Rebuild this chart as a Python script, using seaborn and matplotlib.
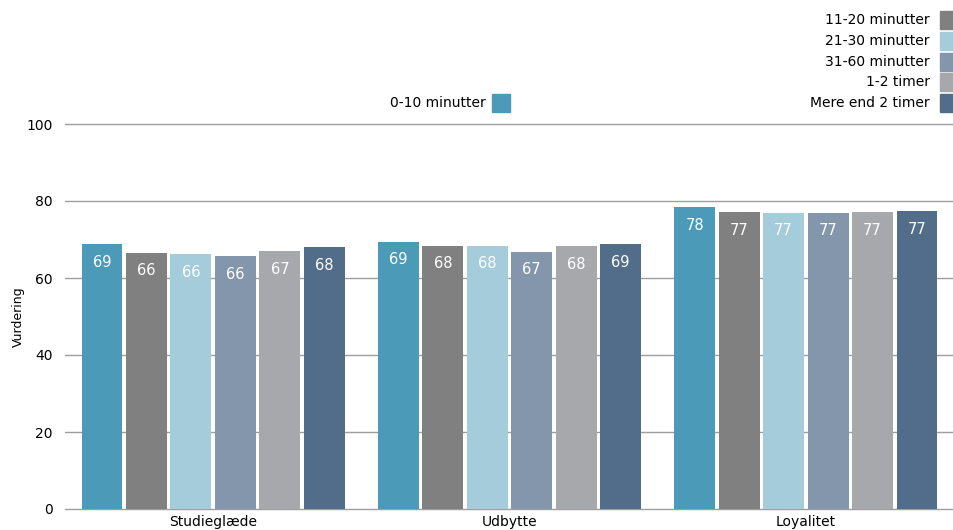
import matplotlib
matplotlib.use("Agg")
import matplotlib.pyplot as plt
from matplotlib.patches import Rectangle
import seaborn as sns
import pandas as pd

# data
categories = ["Studieglæde", "Udbytte", "Loyalitet"]
groups = ["0-10 minutter", "11-20 minutter", "21-30 minutter",
          "31-60 minutter", "1-2 timer", "Mere end 2 timer"]
values = {
    "0-10 minutter":    [68.8, 69.4, 78.4],
    "11-20 minutter":   [66.5, 68.4, 77.1],
    "21-30 minutter":   [66.2, 68.4, 76.9],
    "31-60 minutter":   [65.7, 66.8, 76.9],
    "1-2 timer":        [67.0, 68.2, 77.1],
    "Mere end 2 timer": [68.0, 68.8, 77.3],
}
colors = ["#4A9AB8", "#808080", "#A4CCDA", "#8496AB", "#A7A8AC", "#526D8A"]

rows = []
for g in groups:
    for c, v in zip(categories, values[g]):
        rows.append({"Kategori": c, "Gruppe": g, "Vurdering": v})
df = pd.DataFrame(rows)

sns.set_theme(style="white")
plt.rcParams["font.family"] = ["DejaVu Sans"]
plt.rcParams["text.color"] = "#000000"

W, H = 954, 530
fig = plt.figure(figsize=(W / 100, H / 100), dpi=100)
ax = fig.add_axes([65 / W, 21 / H, (W - 65) / W, (509 - 124) / H])

sns.barplot(data=df, x="Kategori", y="Vurdering", hue="Gruppe",
            hue_order=groups, order=categories, palette=colors,
            saturation=1, width=0.9, gap=0.08, linewidth=0, ax=ax,
            legend=False)

ax.set_xlim(-0.5, 2.5)
ax.set_ylim(0, 100)
ax.set_yticks(range(0, 101, 20))
ax.set_axisbelow(True)
ax.yaxis.grid(True, color="#9E9E9E", linewidth=1.0)
for gl in ax.get_ygridlines():
    gl.set_clip_on(False)
for s in ax.spines.values():
    s.set_visible(False)
ax.tick_params(axis="y", length=0, pad=9, labelsize=10, labelcolor="#000000")
ax.tick_params(axis="x", length=0, pad=4, labelsize=10, labelcolor="#000000")
ax.set_xlabel("")
ax.set_ylabel("Vurdering", fontsize=9, color="#000000")
ax.yaxis.set_label_coords(-40 / (W - 65), 0.5)

# value labels inside bar tops
for cont in ax.containers:
    for bar in cont:
        h = bar.get_height()
        ax.annotate(f"{h:.0f}", (bar.get_x() + bar.get_width() / 2, h),
                    xytext=(0, -18), textcoords="offset pixels",
                    ha="center", va="center", color="white", fontsize=10.5)

# legend laid out as in the reference
sq = 18
right_rows = groups[1:]
row_y = [20, 41, 62, 82, 103]
for g, c, y in zip(right_rows, colors[1:], row_y):
    fig.patches.append(Rectangle((940 / W, 1 - (y + sq / 2) / H), sq / W, sq / H,
                                 transform=fig.transFigure, color=c, figure=fig))
    fig.text(930 / W, 1 - y / H, g, ha="right", va="center", fontsize=10,
             color="#000000")
fig.patches.append(Rectangle((492 / W, 1 - (103 + sq / 2) / H), sq / W, sq / H,
                             transform=fig.transFigure, color=colors[0], figure=fig))
fig.text(486 / W, 1 - 103 / H, groups[0], ha="right", va="center", fontsize=10,
         color="#000000")

fig.savefig("out.png", dpi=100)
